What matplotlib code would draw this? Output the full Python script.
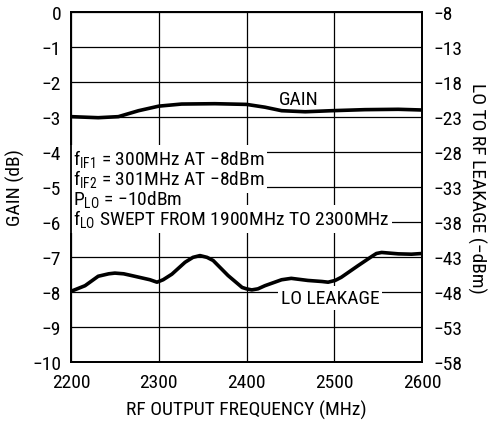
import matplotlib
matplotlib.use("Agg")
import matplotlib.pyplot as plt

fams = ['Roboto Condensed', 'Archivo Narrow', 'Liberation Sans', 'DejaVu Sans']
plt.rcParams['font.family'] = fams
plt.rcParams['mathtext.fontset'] = 'custom'
plt.rcParams['mathtext.rm'] = 'Roboto Condensed'
plt.rcParams['font.size'] = 14

# gain curve (dB)
gain_freq = [2200, 2231, 2254, 2277, 2300, 2326, 2364, 2400, 2421, 2440, 2467, 2497, 2535, 2573, 2600]
gain_db = [-2.99, -3.02, -2.99, -2.82, -2.69, -2.63, -2.62, -2.64, -2.72, -2.82, -2.85, -2.82, -2.79, -2.78, -2.80]

# LO leakage curve (dBm)
leak_freq = [2200, 2216, 2231, 2243, 2250, 2260, 2269, 2290, 2298, 2305, 2315, 2330, 2339, 2347, 2355,
             2362, 2379, 2395, 2400, 2406, 2413, 2421, 2440, 2451, 2470, 2486, 2493, 2501, 2508,
             2527, 2543, 2548, 2554, 2573, 2588, 2600]
leak_dbm = [-47.9, -47.1, -45.75, -45.4, -45.3, -45.4, -45.65, -46.25, -46.6, -46.25, -45.45, -43.75, -43.05,
            -42.8, -43.05, -43.5, -45.65, -47.35, -47.55, -47.7, -47.55, -47.1, -46.25, -46.05, -46.35,
            -46.5, -46.6, -46.35, -45.9, -44.25, -42.9, -42.5, -42.35, -42.55, -42.6, -42.5]

x_ticks = [2200, 2300, 2400, 2500, 2600]
left_ticks = [0, -1, -2, -3, -4, -5, -6, -7, -8, -9, -10]
right_ticks = [-8, -13, -18, -23, -28, -33, -38, -43, -48, -53, -58]

notes = [r'f$_{\rm IF1}$ = 300MHz AT −8dBm',
         r'f$_{\rm IF2}$ = 301MHz AT −8dBm',
         r'P$_{\rm LO}$ = −10dBm',
         r'f$_{\rm LO}$ SWEPT FROM 1900MHz TO 2300MHz']
note_y = [-4.37, -4.94, -5.51, -6.09]

fig = plt.figure(figsize=(4.91, 4.27), dpi=100)
ax = fig.add_axes([71 / 491, 1 - 363 / 427, 351 / 491, 350 / 427])
ax2 = ax.twinx()

ax.set_xlim(2200, 2600)
ax.set_ylim(-10, 0)
ax2.set_ylim(-58, -8)
ax.set_xticks(x_ticks)
ax.set_yticks(left_ticks)
ax2.set_yticks(right_ticks)
ax.set_xticklabels([str(v) for v in x_ticks])
ax.set_yticklabels([str(v).replace('-', '−') for v in left_ticks])
ax2.set_yticklabels([str(v).replace('-', '−') for v in right_ticks])
ax.grid(True, color='black', linewidth=0.9)
ax.tick_params(axis='y', length=0, pad=7)
ax.tick_params(axis='x', length=0, pad=8)
ax2.tick_params(length=0, pad=8)
for a in (ax, ax2):
    for s in a.spines.values():
        s.set_linewidth(1.3)

ax.plot(gain_freq, gain_db, color='black', linewidth=2.6, solid_joinstyle='round', zorder=4)
ax2.plot(leak_freq, leak_dbm, color='black', linewidth=2.6, solid_joinstyle='round', zorder=4)

ax.text(2460, -2.49, 'GAIN', ha='center', va='center')
ax2.text(2495, -48.85, 'LO LEAKAGE', ha='center', va='center', zorder=3,
         bbox=dict(boxstyle='square,pad=0.15', facecolor='white', edgecolor='none'))

# white boxes first (hidden text), then the text itself on top
for t, y in zip(notes, note_y):
    ax.text(2202, y, t, ha='left', va='baseline', color='white', zorder=3,
            bbox=dict(boxstyle='square,pad=0.15', facecolor='white', edgecolor='none'))
    ax.text(2202, y, t, ha='left', va='baseline', zorder=3.5)

ax.set_xlabel('RF OUTPUT FREQUENCY (MHz)', labelpad=6)
ax.set_ylabel('GAIN (dB)', labelpad=5)
ax2.set_ylabel('LO TO RF LEAKAGE (−dBm)', rotation=270, labelpad=17)

fig.savefig('out.png', dpi=100)
